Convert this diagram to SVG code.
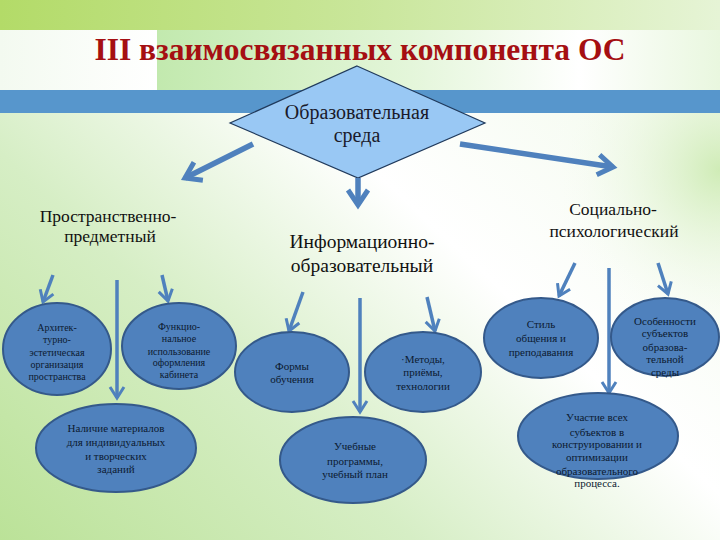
<svg xmlns="http://www.w3.org/2000/svg" width="720" height="540" viewBox="0 0 720 540">
<defs>
<linearGradient id="bgMain" x1="0" y1="1" x2="1" y2="0.2">
<stop offset="0" stop-color="#bbe298"/>
<stop offset="0.35" stop-color="#d6eec5"/>
<stop offset="0.65" stop-color="#ffffff"/>
<stop offset="1" stop-color="#f2faec"/>
</linearGradient>
<radialGradient id="bgTR" cx="720" cy="170" r="180" gradientUnits="userSpaceOnUse">
<stop offset="0" stop-color="#cbeab0" stop-opacity="0.9"/>
<stop offset="1" stop-color="#ffffff" stop-opacity="0"/>
</radialGradient>
<linearGradient id="topBand" x1="0" y1="0" x2="1" y2="0">
<stop offset="0" stop-color="#b3db68"/>
<stop offset="0.5" stop-color="#c9e69a"/>
<stop offset="1" stop-color="#e6f4d6"/>
</linearGradient>
<linearGradient id="titleBand" x1="0" y1="0" x2="1" y2="0">
<stop offset="0" stop-color="#c2e9ae"/>
<stop offset="0.45" stop-color="#e4f6da"/>
<stop offset="0.75" stop-color="#ffffff"/>
<stop offset="1" stop-color="#e9f7df"/>
</linearGradient>
<linearGradient id="leftWhite" x1="0" y1="0" x2="1" y2="0">
<stop offset="0" stop-color="#f3faf0"/>
<stop offset="1" stop-color="#ffffff"/>
</linearGradient>
<marker id="chevBig" markerUnits="userSpaceOnUse" viewBox="-20 -15 25 30" markerWidth="25" markerHeight="30" refX="0" refY="0" orient="auto" overflow="visible">
<path d="M-15,-10 L0,0 L-15,10" fill="none" stroke="#4f81bd" stroke-width="5"/>
</marker>
<marker id="chevSmall" markerUnits="userSpaceOnUse" viewBox="-15 -10 18 20" markerWidth="18" markerHeight="20" refX="0" refY="0" orient="auto" overflow="visible">
<path d="M-11,-7 L0,0 L-11,7" fill="none" stroke="#4f81bd" stroke-width="3"/>
</marker>
</defs>
<style>
text{font-family:"Liberation Serif","Times New Roman",serif}
.title{font-weight:bold;font-size:31.5px;fill:#a50f12}
.lbl{font-size:17.5px;fill:#111111}
.lblm{font-size:19.5px}
.dtxt{font-size:20px;fill:#1a1a2a}
.ell{fill:#4f81bd;stroke:#34598a;stroke-width:2}
.et{font-size:11px;fill:#0c1a30;text-anchor:middle}
.es{font-size:10px}
.main{fill:none;stroke:#4f81bd;stroke-width:5.5;marker-end:url(#chevBig)}
.sub{fill:none;stroke:#4f81bd;stroke-width:3.5;marker-end:url(#chevSmall)}
</style>

<!-- background -->
<rect x="0" y="0" width="720" height="540" fill="url(#bgMain)"/>
<rect x="0" y="113" width="720" height="427" fill="url(#bgTR)"/>
<rect x="0" y="0" width="720" height="30" fill="url(#topBand)"/>
<rect x="0" y="30" width="157" height="60" fill="url(#leftWhite)"/>
<rect x="157" y="30" width="563" height="60" fill="url(#titleBand)"/>
<rect x="0" y="90" width="720" height="23" fill="#5796cc"/>

<text class="title" x="360" y="60" text-anchor="middle">III взаимосвязанных компонента ОС</text>

<g id="node-sreda">
<polygon points="357,66 485,123 358,178 230,123" fill="#99c8f4" stroke="#203a5c" stroke-width="1.2"/>
<text class="dtxt" x="357" y="119" text-anchor="middle">Образовательная</text>
<text class="dtxt" x="357" y="142" text-anchor="middle">среда</text>
</g>

<g id="label-prostr">
<text class="lbl" x="108" y="222" text-anchor="middle">Пространственно-</text>
<text class="lbl" x="110" y="242" text-anchor="middle">предметный</text>
</g>
<g id="label-inform">
<text class="lbl lblm" x="362" y="248" text-anchor="middle">Информационно-</text>
<text class="lbl lblm" x="362" y="272" text-anchor="middle">образовательный</text>
</g>
<g id="label-soc">
<text class="lbl" x="613" y="215" text-anchor="middle">Социально-</text>
<text class="lbl" x="614" y="237" text-anchor="middle">психологический</text>
</g>

<g id="connectors">
<line class="main" x1="253" y1="144" x2="185" y2="178"/>
<line class="main" x1="358" y1="178" x2="358" y2="205"/>
<line class="main" x1="460" y1="144" x2="613" y2="167"/>
<line class="sub" x1="53" y1="275" x2="43" y2="302"/>
<line class="sub" x1="117" y1="280" x2="117" y2="398"/>
<line class="sub" x1="162" y1="275" x2="168" y2="301"/>
<line class="sub" x1="303" y1="292" x2="289" y2="331"/>
<line class="sub" x1="360" y1="298" x2="360" y2="412"/>
<line class="sub" x1="427" y1="297" x2="435" y2="331"/>
<line class="sub" x1="575" y1="263" x2="559" y2="296"/>
<line class="sub" x1="609" y1="268" x2="609" y2="393"/>
<line class="sub" x1="658" y1="263" x2="668" y2="294"/>
</g>

<g id="node-arch">
<ellipse class="ell" cx="57" cy="349" rx="54" ry="46"/>
<text class="et es"><tspan x="57" y="331">Архитек-</tspan><tspan x="57" y="343">турно-</tspan><tspan x="57" y="356">эстетическая</tspan><tspan x="57" y="368">организация</tspan><tspan x="57" y="380">пространства</tspan></text>
</g>
<g id="node-func">
<ellipse class="ell" cx="179" cy="346" rx="57" ry="43"/>
<text class="et es"><tspan x="179" y="330">Функцио-</tspan><tspan x="179" y="342">нальное</tspan><tspan x="179" y="355">использование</tspan><tspan x="179" y="366">оформления</tspan><tspan x="179" y="378">кабинета</tspan></text>
</g>
<g id="node-mater">
<ellipse class="ell" cx="116" cy="448" rx="80" ry="44"/>
<text class="et"><tspan x="116" y="432">Наличие материалов</tspan><tspan x="116" y="446">для индивидуальных</tspan><tspan x="116" y="460">и творческих</tspan><tspan x="116" y="473">заданий</tspan></text>
</g>
<g id="node-formy">
<ellipse class="ell" cx="292" cy="372" rx="57" ry="40"/>
<text class="et"><tspan x="292" y="370">Формы</tspan><tspan x="292" y="383">обучения</tspan></text>
</g>
<g id="node-metody">
<ellipse class="ell" cx="423" cy="372" rx="58" ry="40"/>
<text class="et"><tspan x="423" y="363">·Методы,</tspan><tspan x="423" y="376">приёмы,</tspan><tspan x="423" y="390">технологии</tspan></text>
</g>
<g id="node-ucheb">
<ellipse class="ell" cx="353" cy="460" rx="73" ry="43"/>
<text class="et"><tspan x="355" y="450">Учебные</tspan><tspan x="355" y="465">программы,</tspan><tspan x="355" y="478">учебный план</tspan></text>
</g>
<g id="node-stil">
<ellipse class="ell" cx="541" cy="338" rx="57" ry="40"/>
<text class="et"><tspan x="541" y="328">Стиль</tspan><tspan x="541" y="342">общения и</tspan><tspan x="541" y="356">преподавания</tspan></text>
</g>
<g id="node-osob">
<ellipse class="ell" cx="665" cy="337" rx="54" ry="39"/>
<text class="et"><tspan x="665" y="325">Особенности</tspan><tspan x="665" y="337">субъектов</tspan><tspan x="665" y="351">образова-</tspan><tspan x="665" y="363">тельной</tspan><tspan x="665" y="376">среды</tspan></text>
</g>
<g id="node-uchastie">
<ellipse class="ell" cx="598" cy="436" rx="80" ry="43"/>
<text class="et"><tspan x="597" y="421">Участие всех</tspan><tspan x="597" y="436">субъектов в</tspan><tspan x="597" y="448">конструировании и</tspan><tspan x="597" y="461">оптимизации</tspan><tspan x="597" y="475">образовательного</tspan><tspan x="597" y="487">процесса.</tspan></text>
</g>
</svg>
